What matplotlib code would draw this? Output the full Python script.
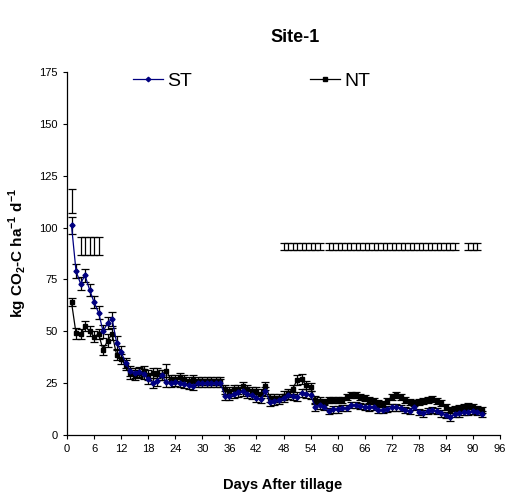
import matplotlib
matplotlib.use("Agg")
import matplotlib.pyplot as plt
from matplotlib.lines import Line2D

plt.rcParams['font.family'] = ['Liberation Sans', 'DejaVu Sans']
plt.rcParams['mathtext.fontset'] = 'custom'
plt.rcParams['mathtext.rm'] = 'Liberation Sans'
plt.rcParams['mathtext.bf'] = 'Liberation Sans:bold'

days = list(range(1, 93))

st = [101, 79, 73, 77, 70, 64, 59, 50, 54, 56, 44.5, 40, 34.7, 31, 30,
      30.5, 29.5, 27, 25, 26, 29, 25.5, 25, 25.5, 25, 24.5, 24, 23.6, 25, 25,
      25, 25, 25, 25, 19, 19, 20, 20.5, 21, 20, 19.3, 18, 17.2, 21, 16,
      16.5, 17, 18, 19.3, 18.8, 18.5, 20.4, 20, 19.3, 13.6, 14.5, 13.5, 11.6, 12.3, 12.3,
      13, 13, 14.5, 14.5, 14, 13.6, 13.3, 13.6, 12, 12, 12.5, 13.3, 13.3, 13, 12,
      11.6, 13.6, 11, 10.4, 11.6, 12, 11.6, 10.4, 9.8, 8.8, 10, 10.4, 11, 11, 11.6,
      11, 10.1]
st_err = [4, 3.5, 3, 3, 3, 3, 3, 3, 3, 3.5, 3, 3, 2.5, 2.5, 2.5,
          2.5, 2.5, 2.5, 2.5, 2.5, 2.5, 2.5, 2, 2, 2, 2, 2, 2, 2, 2,
          2, 2, 2, 2, 2, 2, 2, 2, 2, 2, 2, 2, 2, 2, 2,
          2, 2, 2, 2, 2, 2, 2, 2, 2, 2, 2, 1.5, 1.5, 1.5, 1.5,
          1.5, 1.5, 1.5, 1.5, 1.5, 1.5, 1.5, 1.5, 1.5, 1.5, 1.5, 1.5, 1.5, 1.5, 1.5,
          1.5, 1.5, 1.5, 1.5, 1.5, 1.5, 1.5, 1.5, 1.5, 2, 1.5, 1.5, 1.5, 1.5, 1.5,
          1.5, 1.5]

nt = [64, 49, 48.7, 52.5, 50, 47.4, 48.7, 41, 45.5, 48.7, 38.6, 36.5, 33.6, 29.7, 29,
      30, 31, 29, 30, 30, 29, 31, 27, 27, 28, 27, 26, 27, 26, 26,
      26, 26, 26, 26, 22, 21, 22, 22, 23.6, 22, 21, 21, 20, 23.6, 18,
      18, 18, 19, 20.4, 22, 26.5, 27, 24, 23, 17, 16.5, 16, 17, 17, 17,
      17, 18.5, 19.3, 19.3, 18.5, 18, 17, 16.5, 15.5, 15, 16.5, 18.5, 19.3, 18.5, 17,
      16, 15.5, 16, 16.5, 17, 17.2, 16.5, 15.5, 13.6, 12, 12.3, 13, 13.6, 14, 13.3,
      12.3, 12]
nt_err = [2, 2.5, 2.5, 2.5, 2.5, 2.5, 2.5, 2.5, 3, 3, 2.5, 2.5, 2.5, 2.5, 2.5,
          2.5, 2.5, 2.5, 2.5, 2.5, 2.5, 3, 2, 2, 2, 2, 2, 2, 2, 2,
          2, 2, 2, 2, 2, 2, 2, 2, 2, 2, 2, 2, 2, 2, 2,
          2, 2, 2, 2, 2, 2.5, 2.5, 2, 2, 2, 2, 1.5, 1.5, 1.5, 1.5,
          1.5, 1.5, 1.5, 1.5, 1.5, 1.5, 1.5, 1.5, 1.5, 1.5, 1.5, 1.5, 1.5, 1.5, 1.5,
          1.5, 1.5, 1.5, 1.5, 1.5, 1.5, 1.5, 1.5, 1.5, 1.5, 1.5, 1.5, 1.5, 1.5, 1.5,
          1.5, 1.5]

# stray error bars (no markers) visible in the original
stray_days = [1, 3, 4, 5, 6, 7] + list(range(48, 57)) + list(range(58, 87)) + [89, 90, 91]
stray_vals = [112.7] + [91] * 5 + [90.8] * 9 + [90.8] * 29 + [90.8] * 3
stray_err = [5.8] + [4.3] * 5 + [1.7] * 9 + [1.7] * 29 + [1.7] * 3

xticks = list(range(0, 97, 6))
yticks = list(range(0, 176, 25))

fig = plt.figure(figsize=(5.08, 4.98), dpi=100)
ax = fig.add_axes([67/508, 1-435/498, (500-67)/508, (435-72)/498])

ebkw = dict(ecolor="black", elinewidth=0.9, capsize=3, capthick=0.9)
ax.errorbar(stray_days, stray_vals, yerr=stray_err, fmt="none", **ebkw)
ax.errorbar(days, nt, yerr=nt_err, fmt="-", color="black", marker="s",
            markersize=2.6, lw=0.9, **ebkw)
ax.errorbar(days, st, yerr=st_err, fmt="-", color="#000080", marker="D",
            markersize=2.6, lw=0.9, **ebkw)

ax.set_xlim(0, 96)
ax.set_ylim(0, 175)
ax.set_xticks(xticks)
ax.set_yticks(yticks)
ax.tick_params(axis="both", labelsize=8, direction="out", length=3, width=0.8)
for s in ["top", "right"]:
    ax.spines[s].set_visible(False)
for s in ["left", "bottom"]:
    ax.spines[s].set_linewidth(0.9)

h_st = Line2D([], [], color="#000080", marker="D", markersize=2.3, lw=0.9)
h_nt = Line2D([], [], color="black", marker="s", markersize=2.3, lw=0.9)
ax.legend([h_st, h_nt], ["ST", "NT"], ncol=2, frameon=False, fontsize=14,
          loc="center left", bbox_to_anchor=(0.152, 0.975),
          handlelength=1.55, handletextpad=0.2, columnspacing=6.1,
          borderaxespad=0, borderpad=0)

fig.text(295/508, 1-37/498, "Site-1", ha="center", va="center",
         fontsize=13, fontweight="bold")
fig.text(283/508, 1-485/498, "Days After tillage", ha="center", va="center",
         fontsize=10.5, fontweight="bold")
fig.text(18/508, 1-253/498,
         "kg CO$_\\mathbf{2}$-C ha$^{\\mathbf{-1}}$ d$^{\\mathbf{-1}}$",
         ha="center", va="center", rotation=90, fontsize=11, fontweight="bold")

fig.savefig("out.png", dpi=100)
